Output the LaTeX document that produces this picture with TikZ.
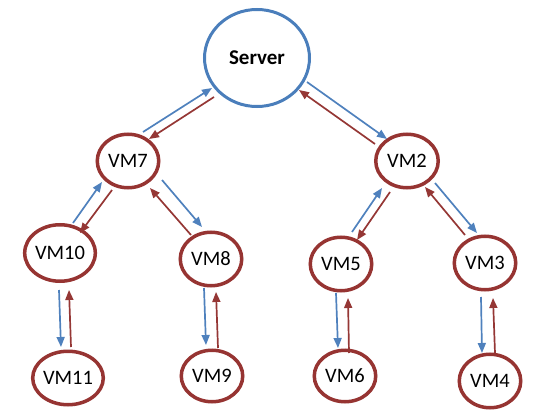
\documentclass[tikz,border=0pt]{standalone}
\usepackage{fontspec}
\setmainfont{Carlito}
\usetikzlibrary{shapes.geometric,arrows.meta}
\definecolor{srvblue}{RGB}{74,126,187}
\definecolor{vmred}{RGB}{150,52,50}
\definecolor{upblue}{RGB}{79,129,189}
\definecolor{downred}{RGB}{149,55,53}
\tikzset{
  vm/.style={ellipse, draw=vmred, line width=3.5pt, inner sep=0pt,
    minimum width=61.5pt, minimum height=53.5pt, font=\fontsize{20.5}{24}\selectfont},
  srv/.style={ellipse, draw=srvblue, line width=3pt, inner sep=0pt,
    minimum width=105pt, minimum height=97pt, font=\fontsize{21}{25}\selectfont\bfseries},
  uparr/.style={draw=upblue, line width=1.7pt, -{Triangle[length=10pt,width=8pt]}, upblue},
  dnarr/.style={draw=downred, line width=1.7pt, -{Triangle[length=10pt,width=8pt]}, downred},
}
\begin{document}
\begin{tikzpicture}[x=1pt,y=-1pt]
\useasboundingbox (0,0) rectangle (558,415);
% nodes of the tree
\node[srv] (server) at (257,58) {Server};
\node[vm] (vm7)  at (128,161) {VM7};
\node[vm, minimum width=62.5pt] (vm2)  at (407,161) {VM2};
\node[vm, minimum height=56.5pt] (vm10) at (60,253) {VM10};
\node[vm] (vm8)  at (211,259) {VM8};
\node[vm] (vm11) at (68,378) {VM11};
\node[vm, minimum height=51.5pt] (vm9)  at (212,376) {VM9};
\node[vm] (vm5)  at (341,264) {VM5};
\node[vm] (vm3)  at (485,263) {VM3};
\node[vm, minimum height=51.5pt] (vm6)  at (345,376) {VM6};
\node[vm] (vm4)  at (490,381) {VM4};
% server <-> VM7
\draw[uparr] ([shift={(15,-29)}]vm7.center) -- ([shift={(-45,30)}]server.center);
\draw[dnarr] ([shift={(-43,39)}]server.center) -- ([shift={(21,-22)}]vm7.center);
% server <-> VM2
\draw[uparr] ([shift={(50,24)}]server.center) -- ([shift={(-20,-22)}]vm2.center);
\draw[dnarr] ([shift={(-32,-17)}]vm2.center) -- ([shift={(42,32)}]server.center);
% VM7 <-> VM10
\draw[uparr] ([shift={(13,-30)}]vm10.center) -- ([shift={(-26,21)}]vm7.center);
\draw[dnarr] ([shift={(-16,29)}]vm7.center) -- ([shift={(20,-20)}]vm10.center);
% VM7 <-> VM8
\draw[uparr] ([shift={(34,19)}]vm7.center) -- ([shift={(-9,-32)}]vm8.center);
\draw[dnarr] ([shift={(-20,-24)}]vm8.center) -- ([shift={(22,27)}]vm7.center);
% VM10 <-> VM11
\draw[uparr] ([shift={(-1,37)}]vm10.center) -- ([shift={(-7,-31)}]vm11.center);
\draw[dnarr] ([shift={(3,-31)}]vm11.center) -- ([shift={(9,37)}]vm10.center);
% VM8 <-> VM9
\draw[uparr] ([shift={(-7,29)}]vm8.center) -- ([shift={(-6,-31)}]vm9.center);
\draw[dnarr] ([shift={(6,-28)}]vm9.center) -- ([shift={(5,33)}]vm8.center);
% VM2 <-> VM5
\draw[uparr] ([shift={(11,-32)}]vm5.center) -- ([shift={(-25,27)}]vm2.center);
\draw[dnarr] ([shift={(-17,31)}]vm2.center) -- ([shift={(16,-24)}]vm5.center);
% VM2 <-> VM3
\draw[uparr] ([shift={(28,22)}]vm2.center) -- ([shift={(-8,-30)}]vm3.center);
\draw[dnarr] ([shift={(-20,-28)}]vm3.center) -- ([shift={(18,26)}]vm2.center);
% VM5 <-> VM6
\draw[uparr] ([shift={(-5,29)}]vm5.center) -- ([shift={(-7,-28)}]vm6.center);
\draw[dnarr] ([shift={(4,-23)}]vm6.center) -- ([shift={(7,34)}]vm5.center);
% VM3 <-> VM4
\draw[uparr] ([shift={(-4,34)}]vm3.center) -- ([shift={(-8,-28)}]vm4.center);
\draw[dnarr] ([shift={(5,-28)}]vm4.center) -- ([shift={(8,35)}]vm3.center);
\end{tikzpicture}
\end{document}
